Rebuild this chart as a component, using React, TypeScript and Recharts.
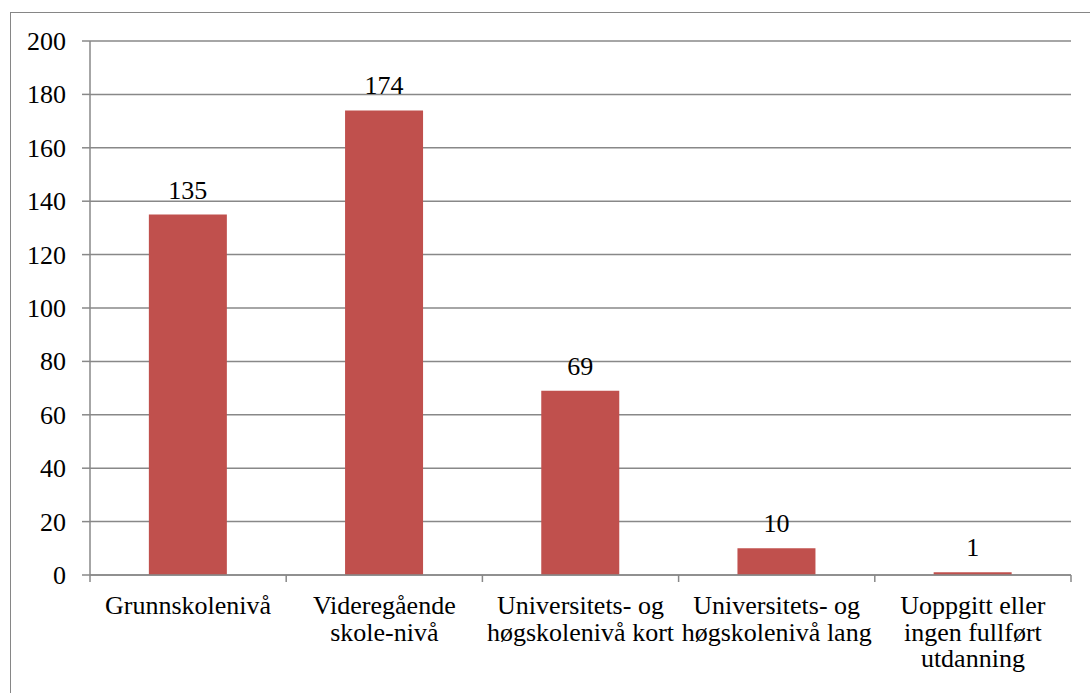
import React from "react";
import { BarChart, Bar, XAxis, YAxis, CartesianGrid, LabelList } from "recharts";

const categories = [
  "Grunnskolenivå",
  "Videregående\nskole-nivå",
  "Universitets- og\nhøgskolenivå kort",
  "Universitets- og\nhøgskolenivå lang",
  "Uoppgitt eller\ningen fullført\nutdanning",
];
const values = [135, 174, 69, 10, 1];
const yTicks = [0, 20, 40, 60, 80, 100, 120, 140, 160, 180, 200];

const data = categories.map((c, i) => ({ name: c, value: values[i] }));

const FONT = "Liberation Serif";
const GRID = "#888888";

const CSS = `
html body #root .chart-box svg text,
html body #root .chart-box svg tspan,
html body #root .chart-box .recharts-wrapper text,
html body #root .chart-box .recharts-wrapper tspan {
  font-family: "Liberation Serif", "Times New Roman", serif !important;
}
`;

const CatTick = (props: any) => {
  const { x, y, payload, index, visibleTicksCount } = props;
  const half = payload && typeof payload.offset === "number" ? payload.offset : 0;
  const lines = String(payload.value).split("\n");
  const isLast = index === (visibleTicksCount ?? categories.length) - 1;
  return (
    <g>
      <line x1={x - half} x2={x - half} y1={y} y2={y + 7} stroke={GRID} strokeWidth={1.5} />
      {isLast && (
        <line x1={x + half} x2={x + half} y1={y} y2={y + 7} stroke={GRID} strokeWidth={1.5} />
      )}
      <text x={x} y={y} textAnchor="middle" fontFamily={FONT} fontSize={26} fill="#000">
        {lines.map((l, i) => (
          <tspan key={i} x={x} y={y + 39 + i * 26.5}>
            {l}
          </tspan>
        ))}
      </text>
    </g>
  );
};

const ValueLabel = (props: any) => {
  const { x, y, width, value } = props;
  return (
    <text
      x={x + width / 2}
      y={y - 16}
      textAnchor="middle"
      fontFamily={FONT}
      fontSize={26}
      fill="#000"
    >
      {value}
    </text>
  );
};

const YTick = (props: any) => {
  const { x, y, payload } = props;
  return (
    <text x={x} y={y + 9} textAnchor="end" fontFamily={FONT} fontSize={26} fill="#000">
      {payload.value}
    </text>
  );
};

export default function App() {
  return (
    <div
      className="chart-box"
      style={{
        position: "absolute",
        left: 0,
        top: 0,
        width: 1090,
        height: 693,
        overflow: "hidden",
        background: "#fff",
        fontFamily: FONT,
      }}
    >
      <style>{CSS}</style>
      <div
        style={{
          position: "absolute",
          left: 10,
          top: 12,
          width: 1200,
          height: 800,
          borderLeft: "1.5px solid #868686",
          borderTop: "1.5px solid #868686",
        }}
      />
      <div style={{ position: "absolute", left: 0, top: 0 }}>
        <BarChart
          width={1090}
          height={693}
          data={data}
          margin={{ top: 41, right: 19, left: 0, bottom: 0 }}
          barCategoryGap="30%"
        >
          <CartesianGrid vertical={false} stroke={GRID} strokeWidth={1.5} />
          <XAxis
            dataKey="name"
            height={118}
            tickLine={false}
            tickSize={0}
            tickMargin={0}
            interval={0}
            axisLine={{ stroke: GRID, strokeWidth: 1.5 }}
            tick={<CatTick />}
          />
          <YAxis
            width={90}
            domain={[0, 200]}
            ticks={yTicks}
            interval={0}
            tickSize={8}
            tickMargin={16}
            axisLine={{ stroke: GRID, strokeWidth: 1.5 }}
            tickLine={{ stroke: GRID, strokeWidth: 1.5 }}
            tick={<YTick />}
          />
          <Bar dataKey="value" fill="#C0504D" isAnimationActive={false}>
            <LabelList dataKey="value" content={<ValueLabel />} />
          </Bar>
        </BarChart>
      </div>
    </div>
  );
}
